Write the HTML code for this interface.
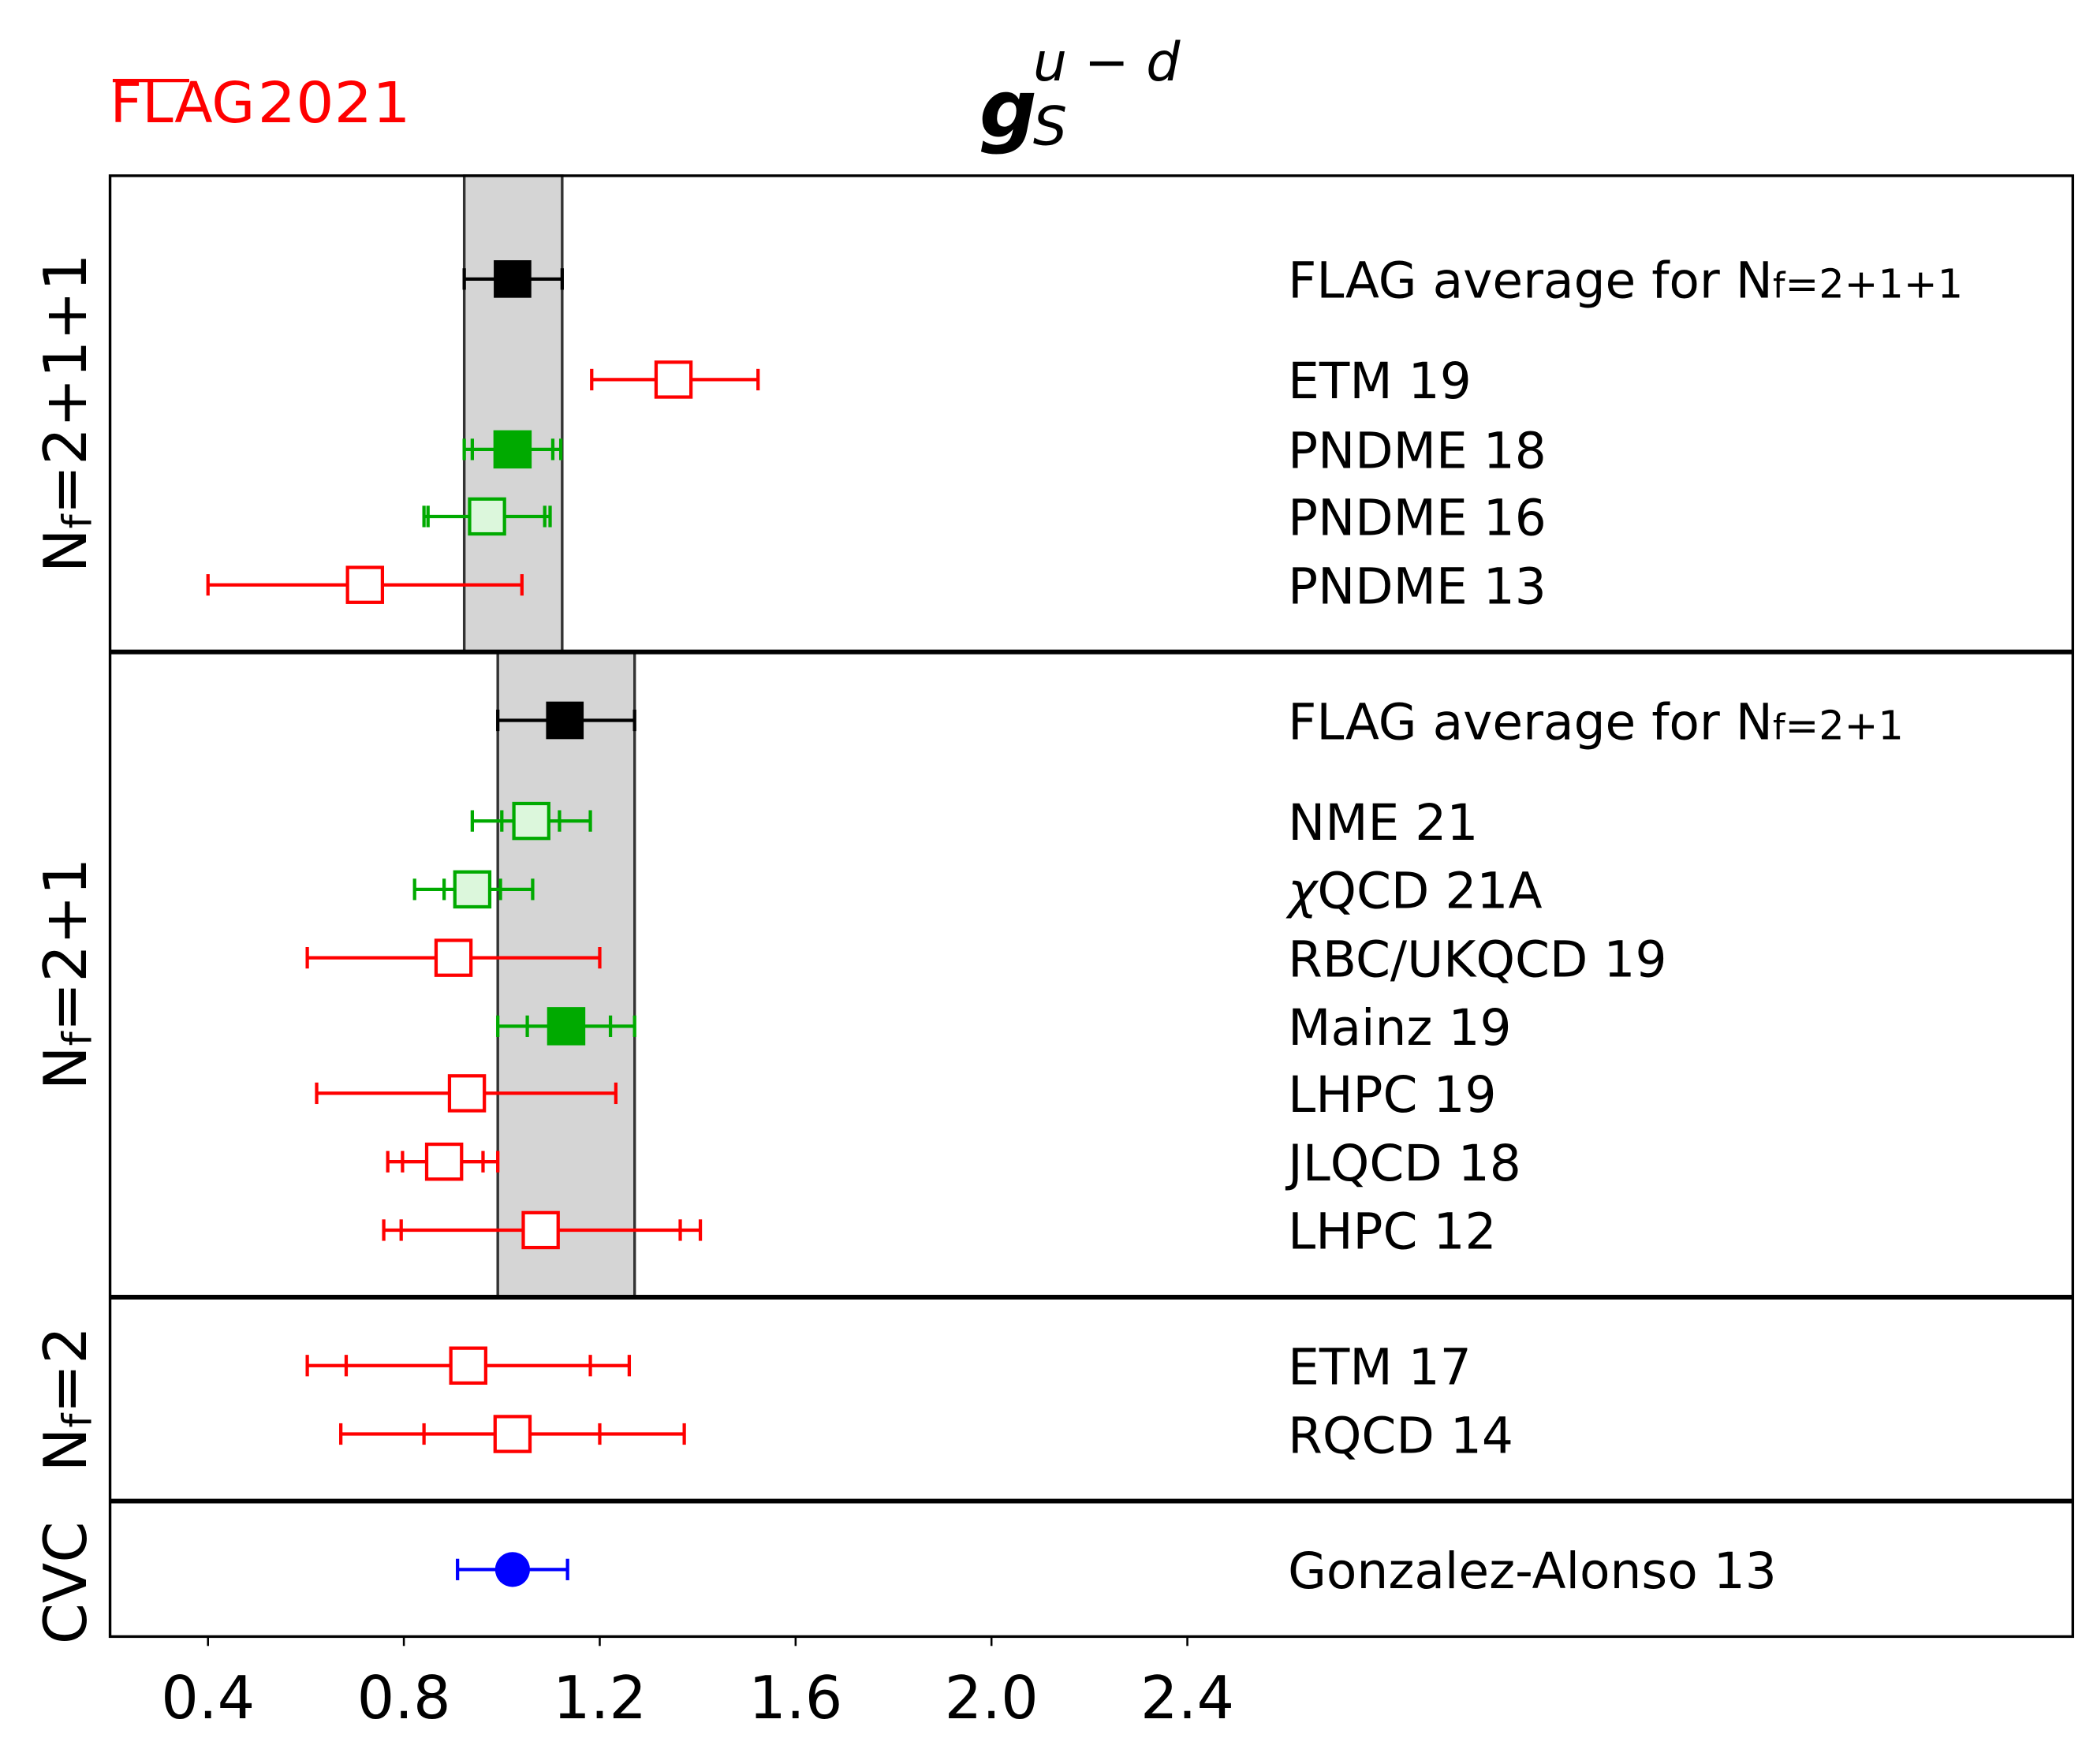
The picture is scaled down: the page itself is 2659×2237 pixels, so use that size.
<!DOCTYPE html>
<html><head><meta charset="utf-8"><style>html,body{margin:0;padding:0;background:#fff}svg{display:block}</style></head>
<body>
<svg width="2659" height="2237" viewBox="0 0 1563 1315" xmlns="http://www.w3.org/2000/svg" font-family="'DejaVu Sans', 'Liberation Sans', sans-serif">
<rect width="1563" height="1315" fill="#fff"/>
<text x="82" y="91" font-size="42" fill="#f00" textLength="108" lengthAdjust="spacingAndGlyphs">FLAG</text>
<line x1="84" y1="60" x2="141" y2="60" stroke="#f00" stroke-width="2.5"/>
<text x="192" y="91" font-size="42" fill="#f00" textLength="114" lengthAdjust="spacingAndGlyphs">2021</text>
<text x="730" y="102" font-size="60" font-style="italic" font-weight="bold">g</text>
<text x="770" y="108" font-size="40" font-style="italic">S</text>
<text x="770" y="60" font-size="40" font-style="italic">u − d</text>
<!-- bands -->
<rect x="346" y="131" width="73" height="355" fill="#d5d5d5" stroke="#333" stroke-width="2"/>
<rect x="371" y="486" width="102" height="481" fill="#d5d5d5" stroke="#333" stroke-width="2"/>
<!-- frame -->
<rect x="82" y="131" width="1463" height="1089" fill="none" stroke="#000" stroke-width="2"/>
<line x1="82" y1="486" x2="1545" y2="486" stroke="#000" stroke-width="3.5"/>
<line x1="82" y1="967" x2="1545" y2="967" stroke="#000" stroke-width="3.5"/>
<line x1="82" y1="1119" x2="1545" y2="1119" stroke="#000" stroke-width="3.5"/>
<!-- x ticks -->
<g stroke="#000" stroke-width="1.5">
<line x1="155" y1="1220" x2="155" y2="1227"/><line x1="301" y1="1220" x2="301" y2="1227"/><line x1="447" y1="1220" x2="447" y2="1227"/><line x1="593" y1="1220" x2="593" y2="1227"/><line x1="739" y1="1220" x2="739" y2="1227"/><line x1="885" y1="1220" x2="885" y2="1227"/>
</g>
<g font-size="44" text-anchor="middle">
<text x="155" y="1281">0.4</text><text x="301" y="1281">0.8</text><text x="447" y="1281">1.2</text><text x="593" y="1281">1.6</text><text x="739" y="1281">2.0</text><text x="885" y="1281">2.4</text>
</g>
<!-- y labels -->
<g font-size="44" text-anchor="middle">
<text transform="translate(64,308) rotate(-90)">N<tspan font-size="30" dy="4">f</tspan><tspan dy="-4">=2+1+1</tspan></text>
<text transform="translate(64,726) rotate(-90)">N<tspan font-size="30" dy="4">f</tspan><tspan dy="-4">=2+1</tspan></text>
<text transform="translate(64,1043) rotate(-90)">N<tspan font-size="30" dy="4">f</tspan><tspan dy="-4">=2</tspan></text>
<text transform="translate(64,1180) rotate(-90)">CVC</text>
</g>
<!-- labels -->
<g font-size="37">
<text x="960" y="222">FLAG average for N<tspan font-size="26">f</tspan><tspan font-size="30">=2+1+1</tspan></text>
<text x="960" y="297">ETM 19</text>
<text x="960" y="349">PNDME 18</text>
<text x="960" y="399">PNDME 16</text>
<text x="960" y="450">PNDME 13</text>
<text x="960" y="551">FLAG average for N<tspan font-size="26">f</tspan><tspan font-size="30">=2+1</tspan></text>
<text x="960" y="626">NME 21</text>
<text x="960" y="677"><tspan font-style="italic">χ</tspan>QCD 21A</text>
<text x="960" y="728">RBC/UKQCD 19</text>
<text x="960" y="779">Mainz 19</text>
<text x="960" y="829">LHPC 19</text>
<text x="960" y="880">JLQCD 18</text>
<text x="960" y="931">LHPC 12</text>
<text x="960" y="1032">ETM 17</text>
<text x="960" y="1083">RQCD 14</text>
<text x="960" y="1184">Gonzalez-Alonso 13</text>
</g>
<!-- data -->
<g stroke-width="2.5">
<g stroke="#000"><line x1="346" y1="208" x2="419" y2="208"/><line x1="346" y1="200" x2="346" y2="216"/><line x1="419" y1="200" x2="419" y2="216"/></g>
<rect x="368" y="194" width="28" height="28" fill="#000"/>
<g stroke="#000"><line x1="371" y1="537" x2="473" y2="537"/><line x1="371" y1="529" x2="371" y2="545"/><line x1="473" y1="529" x2="473" y2="545"/></g>
<rect x="407" y="523" width="28" height="28" fill="#000"/>
<g stroke="#f00" fill="#fff">
<line x1="441" y1="283" x2="565" y2="283"/><line x1="441" y1="275" x2="441" y2="291"/><line x1="565" y1="275" x2="565" y2="291"/>
<rect x="489" y="270" width="26" height="26"/>
<line x1="155" y1="436" x2="389" y2="436"/><line x1="155" y1="428" x2="155" y2="444"/><line x1="389" y1="428" x2="389" y2="444"/>
<rect x="259" y="423" width="26" height="26"/>
<line x1="229" y1="714" x2="447" y2="714"/><line x1="229" y1="706" x2="229" y2="722"/><line x1="447" y1="706" x2="447" y2="722"/>
<rect x="325" y="701" width="26" height="26"/>
<line x1="236" y1="815" x2="459" y2="815"/><line x1="236" y1="807" x2="236" y2="823"/><line x1="459" y1="807" x2="459" y2="823"/>
<rect x="335" y="802" width="26" height="26"/>
<line x1="289" y1="866" x2="371" y2="866"/><line x1="289" y1="858" x2="289" y2="874"/><line x1="371" y1="858" x2="371" y2="874"/><line x1="300" y1="858" x2="300" y2="874"/><line x1="360" y1="858" x2="360" y2="874"/>
<rect x="318" y="853" width="26" height="26"/>
<line x1="286" y1="917" x2="522" y2="917"/><line x1="286" y1="909" x2="286" y2="925"/><line x1="522" y1="909" x2="522" y2="925"/><line x1="299" y1="909" x2="299" y2="925"/><line x1="507" y1="909" x2="507" y2="925"/>
<rect x="390" y="904" width="26" height="26"/>
<line x1="229" y1="1018" x2="469" y2="1018"/><line x1="229" y1="1010" x2="229" y2="1026"/><line x1="469" y1="1010" x2="469" y2="1026"/><line x1="258" y1="1010" x2="258" y2="1026"/><line x1="440" y1="1010" x2="440" y2="1026"/>
<rect x="336" y="1005" width="26" height="26"/>
<line x1="254" y1="1069" x2="510" y2="1069"/><line x1="254" y1="1061" x2="254" y2="1077"/><line x1="510" y1="1061" x2="510" y2="1077"/><line x1="316" y1="1061" x2="316" y2="1077"/><line x1="447" y1="1061" x2="447" y2="1077"/>
<rect x="369" y="1056" width="26" height="26"/>
</g>
<g stroke="#0a0">
<line x1="346" y1="335" x2="418" y2="335"/><line x1="346" y1="327" x2="346" y2="343"/><line x1="418" y1="327" x2="418" y2="343"/><line x1="352" y1="327" x2="352" y2="343"/><line x1="412" y1="327" x2="412" y2="343"/>
<rect x="369" y="322" width="26" height="26" fill="#0a0"/>
<line x1="316" y1="385" x2="410" y2="385"/><line x1="316" y1="377" x2="316" y2="393"/><line x1="410" y1="377" x2="410" y2="393"/><line x1="319" y1="377" x2="319" y2="393"/><line x1="406" y1="377" x2="406" y2="393"/>
<rect x="350" y="372" width="26" height="26" fill="#dcf7dc"/>
<line x1="352" y1="612" x2="440" y2="612"/><line x1="352" y1="604" x2="352" y2="620"/><line x1="440" y1="604" x2="440" y2="620"/><line x1="374" y1="604" x2="374" y2="620"/><line x1="417" y1="604" x2="417" y2="620"/>
<rect x="383" y="599" width="26" height="26" fill="#dcf7dc"/>
<line x1="309" y1="663" x2="397" y2="663"/><line x1="309" y1="655" x2="309" y2="671"/><line x1="397" y1="655" x2="397" y2="671"/><line x1="331" y1="655" x2="331" y2="671"/><line x1="373" y1="655" x2="373" y2="671"/>
<rect x="339" y="650" width="26" height="26" fill="#dcf7dc"/>
<line x1="371" y1="765" x2="473" y2="765"/><line x1="371" y1="757" x2="371" y2="773"/><line x1="473" y1="757" x2="473" y2="773"/><line x1="393" y1="757" x2="393" y2="773"/><line x1="455" y1="757" x2="455" y2="773"/>
<rect x="409" y="752" width="26" height="26" fill="#0a0"/>
</g>
<g stroke="#00f"><line x1="341" y1="1170" x2="423" y2="1170"/><line x1="341" y1="1162" x2="341" y2="1178"/><line x1="423" y1="1162" x2="423" y2="1178"/></g>
<circle cx="382" cy="1170" r="13" fill="#00f"/>
</g>
</svg>
</body></html>
